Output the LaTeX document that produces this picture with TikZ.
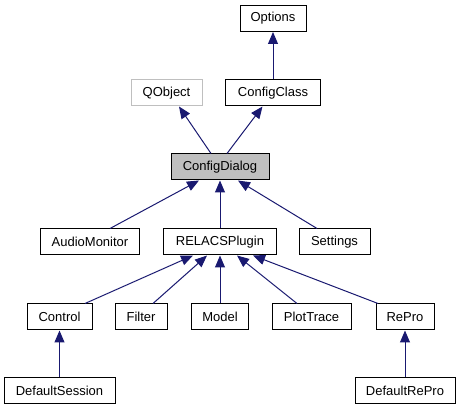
\documentclass[tikz,border=0pt]{standalone}
\usepackage{fontspec}
\setmainfont{Liberation Sans}
\usetikzlibrary{arrows.meta}
\usetikzlibrary{calc}

\definecolor{edgeblue}{RGB}{25,25,112}
\definecolor{boxgray}{RGB}{191,191,191}

\tikzset{
    cls/.style={draw=black, line width=1pt, minimum height=26pt, inner sep=0pt,
        font=\fontsize{13}{15}\selectfont},
    inh/.style={draw=edgeblue, line width=1pt, {Triangle[length=12pt,width=10pt]}-}
}

\begin{document}
\begin{tikzpicture}[x=1pt,y=-1pt]

        \useasboundingbox (0,0) rectangle (461,411);

        % top rows
        \node[cls, minimum width=66pt] (opt) at (273,18.5) {Options};
        \node[cls, draw=boxgray, minimum width=71pt] (qobj) at (166.5,93) {QObject};
        \node[cls, minimum width=95pt] (cfgcls) at (273,93) {ConfigClass};
        \node[cls, fill=boxgray, minimum width=98pt] (cfgdlg) at (220,167) {ConfigDialog};

        % middle row
        \node[cls, minimum width=99pt] (audio) at (90,242) {AudioMonitor};
        \node[cls, minimum width=113pt] (relacs) at (220,242) {RELACSPlugin};
        \node[cls, minimum width=71pt] (settings) at (334.5,242) {Settings};

        % plugin row
        \node[cls, minimum width=65pt] (control) at (59.5,317) {Control};
        \node[cls, minimum width=52pt] (filter) at (141,317) {Filter};
        \node[cls, minimum width=57pt] (model) at (220,317) {Model};
        \node[cls, minimum width=79pt] (plot) at (311.5,317) {PlotTrace};
        \node[cls, minimum width=58pt] (repro) at (405,317) {RePro};

        % bottom row
        \node[cls, minimum width=111pt] (dsession) at (59.5,391) {DefaultSession};
        \node[cls, minimum width=100pt] (drepro) at (405,391) {DefaultRePro};

        \draw[inh] (opt.south) -- (cfgcls.north);
        \draw[inh] ($(qobj.south)+(12.5,0)$) -- ($(cfgdlg.north)+(-9,0)$);
        \draw[inh] ($(cfgcls.south)+(-10.5,0)$) -- ($(cfgdlg.north)+(7,0)$);

        \draw[inh] ($(cfgdlg.south)+(-21,0)$) -- ($(audio.north)+(20,0)$);
        \draw[inh] (cfgdlg.south) -- (relacs.north);
        \draw[inh] ($(cfgdlg.south)+(18,0)$) -- ($(settings.north)+(-17.5,0)$);

        \draw[inh] ($(relacs.south)+(-27,0)$) -- ($(control.north)+(25.5,0)$);
        \draw[inh] ($(relacs.south)+(-13,0)$) -- ($(filter.north)+(12,0)$);
        \draw[inh] (relacs.south) -- (model.north);
        \draw[inh] ($(relacs.south)+(17,0)$) -- ($(plot.north)+(-14.5,0)$);
        \draw[inh] ($(relacs.south)+(33,0)$) -- ($(repro.north)+(-27,0)$);

        \draw[inh] (control.south) -- (dsession.north);
        \draw[inh] (repro.south) -- (drepro.north);

\end{tikzpicture}
\end{document}
